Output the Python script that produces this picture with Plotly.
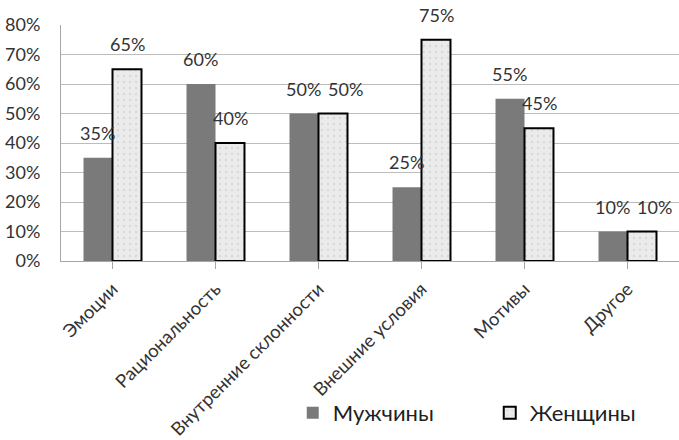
import plotly.graph_objects as go

categories = ["Эмоции", "Рациональность", "Внутренние склонности", "Внешние условия", "Мотивы", "Другое"]
men = [35, 60, 50, 25, 55, 10]
women = [65, 40, 50, 75, 45, 10]
yticks = [0, 10, 20, 30, 40, 50, 60, 70, 80]

font = "Lato, 'Open Sans', sans-serif"
txtcol = "#333333"

fig = go.Figure()
fig.add_trace(go.Bar(
    x=categories, y=men, name="Мужчины",
    marker=dict(color="#7a7a7a", line=dict(width=0)),
))
fig.add_trace(go.Bar(
    x=categories, y=women, name="Женщины",
    marker=dict(color="#e6e6e6", line=dict(width=2, color="#000000"),
                pattern=dict(shape=".", fgcolor="#c4c4c4", bgcolor="#ebebeb", size=6, solidity=0.12)),
))

# data labels above bars (women's label nudged right when values are equal, as in the original)
for c, m, w in zip(categories, men, women):
    fig.add_annotation(x=c, y=m, xref="x", yref="y", text=f"{m}%", showarrow=False,
                       xshift=-15, yshift=12, yanchor="bottom",
                       font=dict(size=18, color=txtcol, family=font))
    extra = 12 if abs(m - w) < 5 else 0
    fig.add_annotation(x=c, y=w, xref="x", yref="y", text=f"{w}%", showarrow=False,
                       xshift=15 + extra, yshift=12, yanchor="bottom",
                       font=dict(size=18, color=txtcol, family=font))

fig.update_layout(
    width=679, height=440,
    margin=dict(l=61, r=0, t=25, b=179, autoexpand=False),
    paper_bgcolor="white", plot_bgcolor="white",
    barmode="group", bargap=0.437, bargroupgap=0,
    font=dict(family=font, size=15, color=txtcol),
    showlegend=True,
    legend=dict(orientation="h", x=0.375, y=-0.555, xanchor="left", yanchor="top",
                bgcolor="rgba(0,0,0,0)",
                font=dict(size=22, color="#202020"), itemwidth=30, tracegroupgap=0,
                entrywidth=152),
    xaxis=dict(showline=True, linecolor="#a6a6a6", linewidth=1, ticks="outside",
               tickcolor="#a6a6a6", ticklen=7, tickangle=-45, showgrid=False,
               ticklabelstandoff=2,
               tickfont=dict(size=18.5, color=txtcol)),
    yaxis=dict(range=[0, 80], tickvals=yticks, ticktext=[f"{v}%" for v in yticks],
               showline=True, linecolor="#a6a6a6", linewidth=1, showgrid=True,
               gridcolor="#bcbcbc", gridwidth=1, zeroline=False, ticks="",
               ticklabelstandoff=16,
               tickfont=dict(size=18, color=txtcol)),
)

fig.write_html("out.html")
